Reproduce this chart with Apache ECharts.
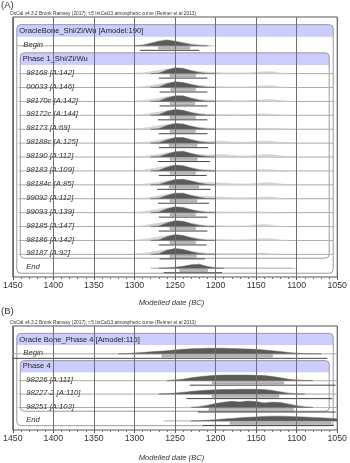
<!DOCTYPE html>
<html>
<head>
<meta charset="utf-8">
<script src="https://cdn.jsdelivr.net/npm/echarts@6/dist/echarts.min.js"></script>
<style>
html, body { margin: 0; padding: 0; background: #fff; }
#chart { width: 350px; height: 463px; }
</style>
</head>
<body>
<div id="chart"></div>
<script>
//通用文字
var caption = 'OxCal v4.3.2 Bronk Ramsey (2017); r:5 IntCal13 atmospheric curve (Reimer et al 2013)';
var axisName = 'Modelled date (BC)';
var xTicks = [1450, 1400, 1350, 1300, 1250, 1200, 1150, 1100, 1050];

//面板A
var groupA = 'OracleBone_Shi/Zi/Wu [Amodel:190]';
var phaseA = 'Phase 1_Shi/Zi/Wu';
var namesA = ['Begin', '98168 [A:142]', '00033 [A:146]', '98170c [A:142]', '98172c [A:144]', '98173 [A:69]',
    '98188c [A:125]', '98190 [A:112]', '98183 [A:109]', '98184c [A:85]', '99092 [A:112]', '99093 [A:139]',
    '98185 [A:147]', '98186 [A:142]', '98187 [A:92]', 'End'];
var yearsA = [1300, 1290, 1280, 1270, 1260, 1250, 1240, 1230, 1220, 1210, 1200,
    1190, 1180, 1170, 1160, 1150, 1140, 1130, 1120, 1110, 1100];
//后验分布（深灰）
var postA = [
    [0, 0.1, 0.45, 0.8, 1.0, 0.8, 0.5, 0.2, 0.05, 0, 0, 0, 0, 0, 0, 0, 0, 0, 0, 0, 0],
    [0, 0, 0, 0.08, 0.6, 1.0, 0.9, 0.5, 0.2, 0.03, 0, 0, 0, 0, 0, 0, 0, 0, 0, 0, 0],
    [0, 0, 0, 0.1, 0.65, 1.0, 0.85, 0.5, 0.2, 0.03, 0, 0, 0, 0, 0, 0, 0, 0, 0, 0, 0],
    [0, 0, 0, 0.08, 0.6, 0.95, 0.95, 0.55, 0.2, 0.03, 0, 0, 0, 0, 0, 0, 0, 0, 0, 0, 0],
    [0, 0, 0, 0.12, 0.7, 1.0, 0.85, 0.45, 0.18, 0.03, 0, 0, 0, 0, 0, 0, 0, 0, 0, 0, 0],
    [0, 0, 0, 0.1, 0.65, 1.0, 0.9, 0.5, 0.2, 0.04, 0, 0, 0, 0, 0, 0, 0, 0, 0, 0, 0],
    [0, 0, 0, 0.08, 0.55, 0.95, 0.95, 0.6, 0.25, 0.05, 0, 0, 0, 0, 0, 0, 0, 0, 0, 0, 0],
    [0, 0, 0, 0.06, 0.5, 0.9, 1.0, 0.6, 0.28, 0.06, 0, 0, 0, 0, 0, 0, 0, 0, 0, 0, 0],
    [0, 0, 0, 0.1, 0.65, 1.0, 0.9, 0.5, 0.18, 0.03, 0, 0, 0, 0, 0, 0, 0, 0, 0, 0, 0],
    [0, 0, 0, 0.06, 0.5, 0.9, 0.95, 0.65, 0.3, 0.07, 0, 0, 0, 0, 0, 0, 0, 0, 0, 0, 0],
    [0, 0, 0, 0.08, 0.55, 0.95, 0.95, 0.55, 0.25, 0.05, 0, 0, 0, 0, 0, 0, 0, 0, 0, 0, 0],
    [0, 0, 0, 0.1, 0.65, 1.0, 0.9, 0.5, 0.2, 0.03, 0, 0, 0, 0, 0, 0, 0, 0, 0, 0, 0],
    [0, 0, 0, 0.1, 0.6, 1.0, 0.9, 0.5, 0.2, 0.04, 0, 0, 0, 0, 0, 0, 0, 0, 0, 0, 0],
    [0, 0, 0, 0.1, 0.65, 1.0, 0.85, 0.45, 0.18, 0.03, 0, 0, 0, 0, 0, 0, 0, 0, 0, 0, 0],
    [0, 0, 0, 0.12, 0.7, 1.0, 0.85, 0.45, 0.15, 0.02, 0, 0, 0, 0, 0, 0, 0, 0, 0, 0, 0],
    [0, 0, 0, 0, 0.05, 0.15, 0.35, 0.6, 0.7, 0.3, 0.05, 0, 0, 0, 0, 0, 0, 0, 0, 0, 0]
];
//似然分布（浅灰）
var likeA = [
    [0.05, 0.15, 0.35, 0.6, 0.8, 0.75, 0.55, 0.35, 0.2, 0.08, 0, 0, 0, 0, 0, 0, 0, 0, 0, 0, 0],
    [0.04, 0.12, 0.3, 0.55, 0.8, 0.9, 0.8, 0.55, 0.35, 0.25, 0.18, 0.12, 0.1, 0.1, 0.12, 0.2, 0.3, 0.3, 0.08, 0, 0],
    [0.04, 0.12, 0.3, 0.55, 0.8, 0.9, 0.8, 0.55, 0.35, 0.25, 0.18, 0.12, 0.1, 0.1, 0.12, 0.18, 0.28, 0.3, 0.1, 0, 0],
    [0.04, 0.12, 0.3, 0.55, 0.8, 0.9, 0.8, 0.55, 0.35, 0.25, 0.2, 0.15, 0.12, 0.1, 0.12, 0.2, 0.3, 0.32, 0.12, 0.01, 0],
    [0.04, 0.12, 0.3, 0.55, 0.8, 0.9, 0.8, 0.55, 0.3, 0.2, 0.15, 0.1, 0.08, 0.08, 0.1, 0.18, 0.25, 0.15, 0.02, 0, 0],
    [0.05, 0.15, 0.35, 0.6, 0.8, 0.85, 0.75, 0.5, 0.3, 0.2, 0.15, 0.12, 0.1, 0.08, 0.08, 0.1, 0.15, 0.12, 0.02, 0, 0],
    [0.04, 0.1, 0.25, 0.5, 0.75, 0.85, 0.8, 0.6, 0.4, 0.3, 0.35, 0.3, 0.2, 0.15, 0.15, 0.25, 0.35, 0.3, 0.1, 0.01, 0],
    [0.03, 0.1, 0.25, 0.45, 0.7, 0.85, 0.85, 0.65, 0.45, 0.35, 0.38, 0.4, 0.28, 0.18, 0.18, 0.28, 0.4, 0.38, 0.2, 0.05, 0],
    [0.05, 0.15, 0.35, 0.6, 0.8, 0.9, 0.8, 0.55, 0.3, 0.2, 0.15, 0.12, 0.1, 0.1, 0.12, 0.18, 0.25, 0.2, 0.05, 0, 0],
    [0.03, 0.1, 0.25, 0.45, 0.7, 0.85, 0.85, 0.65, 0.45, 0.4, 0.35, 0.28, 0.2, 0.15, 0.15, 0.25, 0.35, 0.32, 0.15, 0.02, 0],
    [0.04, 0.1, 0.25, 0.5, 0.75, 0.85, 0.8, 0.6, 0.4, 0.38, 0.32, 0.25, 0.18, 0.15, 0.15, 0.22, 0.3, 0.25, 0.08, 0, 0],
    [0.05, 0.15, 0.35, 0.6, 0.8, 0.9, 0.8, 0.55, 0.3, 0.2, 0.15, 0.12, 0.1, 0.1, 0.12, 0.15, 0.12, 0.02, 0, 0, 0],
    [0.05, 0.15, 0.35, 0.6, 0.8, 0.9, 0.8, 0.55, 0.3, 0.2, 0.15, 0.12, 0.1, 0.1, 0.15, 0.25, 0.35, 0.2, 0.03, 0, 0],
    [0.05, 0.15, 0.35, 0.6, 0.8, 0.9, 0.8, 0.55, 0.3, 0.2, 0.15, 0.12, 0.1, 0.1, 0.12, 0.2, 0.3, 0.25, 0.06, 0, 0],
    [0.05, 0.15, 0.35, 0.6, 0.8, 0.9, 0.8, 0.55, 0.3, 0.2, 0.15, 0.12, 0.1, 0.1, 0.12, 0.18, 0.2, 0.02, 0, 0, 0],
    [0, 0, 0, 0.05, 0.1, 0.2, 0.3, 0.35, 0.3, 0.2, 0.12, 0.1, 0.08, 0.07, 0.06, 0.06, 0.05, 0.05, 0.04, 0.03, 0]
];
//68.2% 区间
var r68A = [[1270, 1232], [1256, 1225], [1255, 1225], [1256, 1226], [1256, 1225], [1256, 1225], [1257, 1223],
    [1256, 1223], [1256, 1225], [1257, 1221], [1256, 1223], [1256, 1225], [1256, 1225], [1256, 1225],
    [1256, 1224], [1244, 1210]];
//95.4% 区间
var r95A = [[1293, 1220], [1270, 1210], [1269, 1210], [1269, 1210], [1271, 1210], [1270, 1210], [1270, 1209],
    [1271, 1207], [1270, 1211], [1272, 1206], [1271, 1208], [1270, 1210], [1270, 1210], [1270, 1211],
    [1269, 1213], [1264, 1192]];
//基线范围
var lineA = [[1446, 1206], [1443, 1055], [1443, 1055], [1443, 1055], [1443, 1055], [1443, 1055], [1443, 1055],
    [1443, 1055], [1443, 1055], [1443, 1055], [1443, 1055], [1443, 1055], [1443, 1055], [1443, 1055],
    [1443, 1055], [1280, 1105]];

//面板B
var groupB = 'Oracle Bone_Phase 4 [Amodel:115]';
var phaseB = 'Phase 4';
var namesB = ['Begin', '98226 [A:111]', '98227-2 [A:110]', '98251 [A:103]', 'End'];
var yearsB = [1320, 1310, 1300, 1290, 1280, 1270, 1260, 1250, 1240, 1230, 1220, 1210, 1200, 1190,
    1180, 1170, 1160, 1150, 1140, 1130, 1120, 1110, 1100, 1090, 1080, 1070, 1060, 1050];
var postB = [
    [0, 0.05, 0.15, 0.25, 0.35, 0.45, 0.55, 0.7, 0.8, 0.9, 0.95, 1.0, 1.0, 1.0, 0.95, 0.9, 0.85, 0.8, 0.7, 0.55, 0.4, 0.25, 0.12, 0.05, 0.02, 0, 0, 0],
    [0, 0, 0, 0, 0, 0, 0, 0.08, 0.25, 0.5, 0.7, 0.85, 0.95, 1.0, 1.0, 1.0, 1.0, 0.95, 0.9, 0.75, 0.5, 0.25, 0.08, 0.02, 0, 0, 0, 0],
    [0, 0, 0, 0, 0, 0, 0.05, 0.15, 0.3, 0.45, 0.6, 0.7, 0.75, 0.8, 0.8, 0.85, 0.85, 0.85, 0.8, 0.65, 0.35, 0.12, 0.03, 0, 0, 0, 0, 0],
    [0, 0, 0, 0, 0, 0, 0, 0, 0, 0, 0.1, 0.35, 0.7, 0.95, 1.1, 1.0, 1.15, 1.05, 0.8, 0.95, 0.9, 0.6, 0.25, 0.08, 0, 0, 0, 0],
    [0, 0, 0, 0, 0, 0, 0, 0, 0, 0, 0.05, 0.12, 0.22, 0.35, 0.45, 0.55, 0.65, 0.72, 0.8, 0.85, 0.85, 0.8, 0.75, 0.7, 0.62, 0.55, 0.48, 0.4]
];
var likeB = [
    [0, 0, 0, 0, 0, 0, 0, 0, 0, 0, 0, 0, 0, 0, 0, 0, 0, 0, 0, 0, 0, 0, 0, 0, 0, 0, 0, 0],
    [0, 0, 0, 0, 0, 0, 0.05, 0.15, 0.3, 0.45, 0.6, 0.7, 0.8, 0.85, 0.85, 0.85, 0.85, 0.8, 0.75, 0.65, 0.5, 0.3, 0.15, 0.08, 0.04, 0.02, 0, 0],
    [0, 0, 0, 0, 0, 0, 0.08, 0.2, 0.35, 0.45, 0.55, 0.6, 0.65, 0.7, 0.7, 0.72, 0.72, 0.7, 0.68, 0.6, 0.45, 0.25, 0.1, 0.04, 0.02, 0, 0, 0],
    [0, 0, 0, 0, 0, 0, 0, 0, 0.03, 0.1, 0.25, 0.45, 0.7, 0.85, 0.95, 0.9, 1.0, 0.95, 0.8, 0.9, 0.85, 0.65, 0.4, 0.2, 0.08, 0.03, 0, 0],
    [0, 0, 0, 0, 0, 0, 0, 0, 0, 0, 0, 0, 0, 0, 0, 0, 0, 0, 0, 0, 0, 0, 0, 0, 0, 0, 0, 0]
];
var r68B = [[1266, 1130], [1204, 1116], [1204, 1122], [1208, 1104], [1182, 1058]];
var r95B = [[1460, 1062], [1232, 1052], [1236, 1056], [1222, 1052], [1216, 1054]];
var lineB = [[1460, 1040], [1443, 1040], [1443, 1040], [1443, 1040], [1264, 1040]];

var fontFamily = 'Liberation Sans, Arial, sans-serif';

//行号：0组标题，1 Begin，2 Phase标题，之后样本，最后 End
function rowOf(k) {
    return k === 0 ? 1 : k + 2;
}

//每一行的分布
function makeRowRender(p) {
    return function (params, api) {
        var k = api.value(2),
            row = api.value(1),
            cs = params.coordSys,
            rowPx = api.size([0, 1])[1],
            H = rowPx * 0.42,
            yc = api.coord([1250, row])[1],
            base = yc + 1,
            children = [];
        function px(year) {
            return api.coord([year, row])[0];
        }
        //只取非零部分，避免沿基线描边
        function poly(vals, fill, stroke) {
            var first = -1, last = -1, pts = [];
            vals.forEach(function (v, j) {
                if (v > 0) {
                    if (first < 0) first = j;
                    last = j;
                }
            });
            if (first < 0) {
                return null;
            }
            first = Math.max(first - 1, 0);
            last = Math.min(last + 1, vals.length - 1);
            pts.push([px(p.years[first]), base]);
            for (var j = first; j <= last; j++) {
                pts.push([px(p.years[j]), base - vals[j] * H]);
            }
            pts.push([px(p.years[last]), base]);
            return {
                type: 'polygon',
                shape: { points: pts },
                style: { fill: fill, stroke: stroke, lineWidth: 0.5 }
            };
        }
        //基线
        children.push({
            type: 'line',
            shape: { x1: px(p.line[k][0]), y1: base, x2: px(p.line[k][1]), y2: base },
            style: { stroke: '#ababab', lineWidth: 1 }
        });
        var lk = poly(p.like[k], '#d6d6d6', '#c4c4c4');
        if (lk) children.push(lk);
        var ps = poly(p.post[k], '#5a5a5a', '#6a6a6a');
        if (ps) children.push(ps);
        //68.2%
        children.push({
            type: 'rect',
            shape: { x: px(p.r68[k][0]), y: base + 1, width: px(p.r68[k][1]) - px(p.r68[k][0]), height: 2.2 },
            style: { fill: '#c2c2c2', stroke: '#8a8a8a', lineWidth: 0.6 }
        });
        //95.4%
        children.push({
            type: 'line',
            shape: { x1: px(p.r95[k][0]), y1: base + 4.5, x2: px(p.r95[k][1]), y2: base + 4.5 },
            style: { stroke: '#444', lineWidth: 1 }
        });
        //名称
        children.push({
            type: 'text',
            style: {
                text: p.names[k],
                x: cs.x + (k === 0 ? 10.5 : 13.4),
                y: yc,
                fill: '#333',
                fontSize: 7.7,
                fontStyle: 'italic',
                fontFamily: fontFamily,
                verticalAlign: 'middle',
                align: 'left'
            }
        });
        return { type: 'group', children: children };
    };
}

//分组框
function makeBoxRender(p) {
    return function (params, api) {
        var level = api.value(1),
            cs = params.coordSys,
            rowPx = api.size([0, 1])[1],
            n = p.names.length,
            topRow = level === 0 ? -0.45 : 1.58,
            botRow = level === 0 ? rowOf(n - 1) + 0.43 : rowOf(n - 2) + 0.35,
            left = cs.x + (level === 0 ? 4 : 7.5),
            right = cs.x + cs.width - (level === 0 ? 4 : 8),
            top = api.coord([1250, topRow])[1],
            bottom = api.coord([1250, botRow])[1],
            band = rowPx * 0.87,
            title = level === 0 ? p.group : p.phase,
            ty = api.coord([1250, level === 0 ? 0 : 2])[1];
        return {
            type: 'group',
            children: [{
                type: 'rect',
                shape: { x: left, y: top, width: right - left, height: band, r: [4, 4, 0, 0] },
                style: { fill: '#ccccff' }
            }, {
                type: 'rect',
                shape: { x: left, y: top, width: right - left, height: bottom - top, r: 4 },
                style: { fill: 'none', stroke: '#9a9a9a', lineWidth: 1 }
            }, {
                type: 'text',
                style: {
                    text: title,
                    x: left + 2.5,
                    y: ty,
                    fill: '#222',
                    fontSize: 7.6,
                    fontFamily: fontFamily,
                    verticalAlign: 'middle'
                }
            }]
        };
    };
}

function xAxisOf(gi, gap) {
    return {
        gridIndex: gi,
        type: 'value',
        min: 1050,
        max: 1450,
        interval: 50,
        inverse: true,
        z: 5,
        axisLine: { show: false, onZero: false },
        axisTick: { show: true, length: 3, lineStyle: { color: '#555' } },
        minorTick: { show: true, splitNumber: 5, length: 2, lineStyle: { color: '#777' } },
        splitLine: { show: true, lineStyle: { color: '#6e6e6e', width: 1 } },
        axisLabel: {
            customValues: xTicks,
            formatter: function (v) {
                return String(v);
            },
            fontSize: 8.8,
            color: '#333',
            margin: 4,
            fontFamily: fontFamily
        },
        name: axisName,
        nameLocation: 'middle',
        nameGap: gap,
        nameTextStyle: { fontStyle: 'italic', fontSize: 7.6, color: '#333', fontFamily: fontFamily, padding: [0, 7, 0, 0] }
    };
}

function yAxisOf(gi, max) {
    return { gridIndex: gi, type: 'value', min: -1, max: max, inverse: true, show: false };
}

function panelSeries(gi, p) {
    var rows = p.names.map(function (nm, k) {
        return [p.r68[k][0], rowOf(k), k];
    });
    return [{
        type: 'custom',
        xAxisIndex: gi,
        yAxisIndex: gi,
        clip: true,
        renderItem: makeBoxRender(p),
        data: [[1250, 0], [1250, 1]],
        silent: true
    }, {
        type: 'custom',
        xAxisIndex: gi,
        yAxisIndex: gi,
        clip: true,
        renderItem: makeRowRender(p),
        encode: { x: 0, y: 1 },
        data: rows,
        silent: true
    }];
}

var panelA = { names: namesA, years: yearsA, post: postA, like: likeA, r68: r68A, r95: r95A, line: lineA, group: groupA, phase: phaseA };
var panelB = { names: namesB, years: yearsB, post: postB, like: likeB, r68: r68B, r95: r95B, line: lineB, group: groupB, phase: phaseB };

var chart = echarts.init(document.getElementById('chart'), null, { renderer: 'canvas' });
chart.setOption({
    animation: false,
    backgroundColor: '#fff',
    grid: [
        { left: 8, top: 17, width: 334, height: 260, show: true, borderColor: '#555', borderWidth: 1 },
        { left: 8, top: 326, width: 334, height: 107, show: true, borderColor: '#555', borderWidth: 1 }
    ],
    xAxis: [xAxisOf(0, 22), xAxisOf(1, 24)],
    yAxis: [yAxisOf(0, 17.7), yAxisOf(1, 6.75)],
    graphic: [
        { type: 'text', left: 1, top: 0, style: { text: '(A)', fontSize: 9.5, fill: '#333', fontFamily: fontFamily } },
        { type: 'text', left: 10, top: 11, style: { text: caption, fontSize: 4.8, fill: '#333', fontFamily: fontFamily } },
        { type: 'text', left: 1, top: 306, style: { text: '(B)', fontSize: 9.5, fill: '#333', fontFamily: fontFamily } },
        { type: 'text', left: 10, top: 320, style: { text: caption, fontSize: 4.8, fill: '#333', fontFamily: fontFamily } }
    ],
    series: panelSeries(0, panelA).concat(panelSeries(1, panelB))
});
</script>
</body>
</html>
